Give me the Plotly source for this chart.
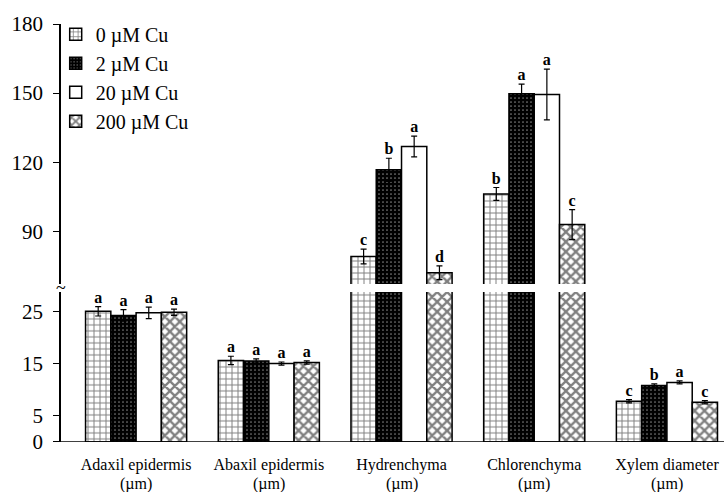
import plotly.graph_objects as go

category_names = ["Adaxil epidermis", "Abaxil epidermis", "Hydrenchyma",
                  "Chlorenchyma", "Xylem diameter"]
unit_label = "(µm)"
series_names = ["0 µM Cu", "2 µM Cu", "20 µM Cu", "200 µM Cu"]

v0 = [25.0, 15.6, 79.0, 106.2, 7.8]
e0 = [0.9, 0.8, 3.2, 2.8, 0.3]
l0 = ["a", "a", "c", "b", "c"]

v2 = [24.2, 15.5, 116.7, 149.7, 10.8]
e2 = [1.1, 0.4, 5.0, 4.2, 0.3]
l2 = ["a", "a", "b", "a", "b"]

v20 = [24.7, 15.0, 126.8, 149.4, 11.4]
e20 = [1.1, 0.3, 4.5, 11.0, 0.3]
l20 = ["a", "a", "a", "a", "a"]

v200 = [24.8, 15.2, 72.0, 92.9, 7.6]
e200 = [0.6, 0.3, 3.0, 6.5, 0.3]
l200 = ["a", "a", "d", "c", "c"]

values = [v0, v2, v20, v200]
errors = [e0, e2, e20, e200]
letters = [l0, l2, l20, l200]

lower_ticks = [0, 5, 15, 25]
upper_ticks = [90, 120, 150, 180]
LOWER_RANGE = [0, 28.7]
UPPER_RANGE = [67.1, 180]

FONT = "Liberation Serif"
BARGAP = 0.238
styles = [
    dict(color="white", pattern=dict(shape="+", fgcolor="black", bgcolor="white", size=6, solidity=0.3)),
    dict(color="black", pattern=dict(shape=".", fgcolor="white", bgcolor="black", size=4, solidity=0.15)),
    dict(color="white"),
    dict(color="white", pattern=dict(shape="x", fgcolor="black", bgcolor="white", size=7, solidity=0.55)),
]

xs = list(range(len(category_names)))
w = (1 - BARGAP) / len(series_names)

fig = go.Figure()
for yax, rng in [("y", LOWER_RANGE), ("y2", UPPER_RANGE)]:
    for k, name in enumerate(series_names):
        fig.add_trace(go.Bar(
            x=xs, y=values[k], name=name, yaxis=yax, xaxis="x",
            marker=dict(line=dict(color="black", width=1.5), **styles[k]),
            error_y=dict(type="data", array=errors[k], color="black", thickness=1.2, width=3),
            showlegend=(yax == "y"), legendgroup=name,
        ))
    for k, name in enumerate(series_names):
        off = (k - 1.5) * w
        tops, txt, px = [], [], []
        for x, v, e, t in zip(xs, values[k], errors[k], letters[k]):
            if rng[0] <= v + e <= rng[1]:
                px.append(x + off)
                tops.append(v + e)
                txt.append(t)
        fig.add_trace(go.Scatter(
            x=px, y=tops,
            mode="text", text=txt, textposition="top center",
            textfont=dict(family=FONT, size=16, color="black", weight="bold"),
            yaxis=yax, xaxis="x", showlegend=False, cliponaxis=False, hoverinfo="skip",
        ))

annotations = [dict(text="~", xref="paper", yref="paper", x=0, y=0.3685, showarrow=False,
                    font=dict(size=18, family=FONT), xanchor="center", yanchor="middle")]
for x in xs:
    annotations.append(dict(text=unit_label, xref="x", yref="paper", x=x, y=-0.1,
                            showarrow=False, font=dict(size=16, family=FONT),
                            xanchor="center", yanchor="middle"))

fig.update_layout(
    width=724, height=492,
    margin=dict(l=61, r=0, t=24, b=50),
    paper_bgcolor="white", plot_bgcolor="white",
    barmode="group", bargap=BARGAP, bargroupgap=0,
    font=dict(family=FONT, color="black"),
    xaxis=dict(range=[-0.566, 4.43], tickvals=xs, ticktext=category_names, showgrid=False,
               zeroline=False, showline=False, ticks="", tickfont=dict(size=16),
               anchor="y", ticklabelstandoff=11),
    yaxis=dict(domain=[0, 0.359], range=LOWER_RANGE, tickvals=lower_ticks, showgrid=False,
               zeroline=False, showline=True, linecolor="black", linewidth=1.5,
               ticks="outside", ticklen=6, tickcolor="black", tickwidth=1.2,
               tickfont=dict(size=21), anchor="x", ticklabelstandoff=6),
    yaxis2=dict(domain=[0.378, 1], range=UPPER_RANGE, tickvals=upper_ticks, showgrid=False,
                zeroline=False, showline=True, linecolor="black", linewidth=1.5,
                ticks="outside", ticklen=6, tickcolor="black", tickwidth=1.2,
                tickfont=dict(size=21), anchor="x", ticklabelstandoff=6),
    legend=dict(x=-0.008, y=1.022, xanchor="left", yanchor="top", bgcolor="rgba(0,0,0,0)",
                font=dict(size=20), tracegroupgap=0, itemwidth=30),
    shapes=[dict(type="line", xref="paper", yref="y", x0=0, x1=1, y0=0, y1=0,
                 line=dict(color="black", width=1.5))],
    annotations=annotations,
)

fig.write_html("out.html")
